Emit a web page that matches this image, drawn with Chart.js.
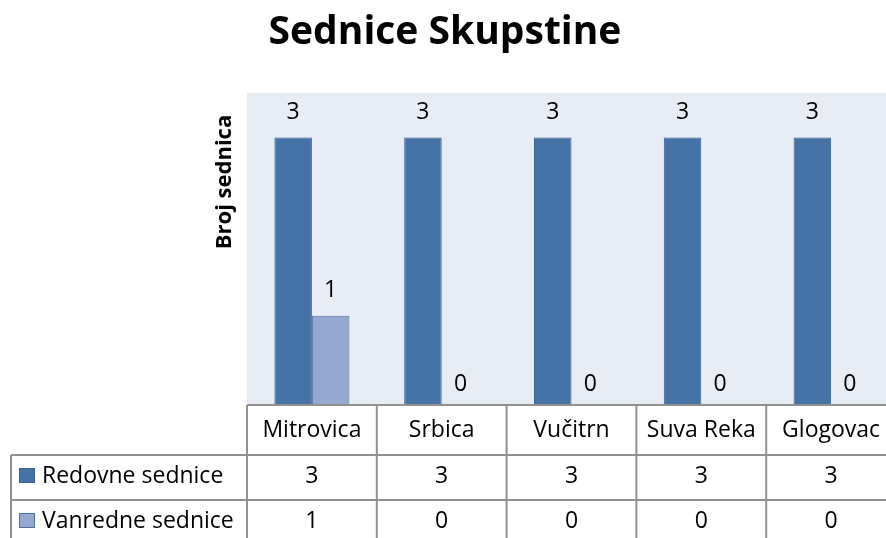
<!DOCTYPE html>
<html lang="sr">
	<head>
		<meta charset="utf-8">
		<title>Sednice Skupstine</title>
		<script src="https://cdn.jsdelivr.net/npm/chart.js@4.4.0/dist/chart.umd.min.js"></script>
		<style>
			html, body { margin: 0; padding: 0; background: #fff; overflow: hidden; width: 886px; height: 538px; }
			#wrap { width: 900px; height: 538px; }
		</style>
	</head>
	<body>
		<div id="wrap"><canvas id="chart" width="900" height="538"></canvas></div>
		<script>
			const categories = ["Mitrovica", "Srbica", "Vučitrn", "Suva Reka", "Glogovac"]
			const seriesNames = ["Redovne sednice", "Vanredne sednice"]
			const redovne = [3, 3, 3, 3, 3]
			const vanredne = [1, 0, 0, 0, 0]

			const font = "'Open Sans', 'Noto Sans', sans-serif"
			const fills = ["#4572a7", "#94a8d0"]
			const borders = ["#3a6291", "#4f6fa3"]

			// excel-like chart: plot background, value labels and the data table underneath
			const excelTable = {
				id: "excelTable",
				beforeDraw(chart) {
					const ctx = chart.ctx
					const a = chart.chartArea
					ctx.save()
					ctx.fillStyle = "#fff"
					ctx.fillRect(0, 0, chart.width, chart.height)
					ctx.fillStyle = "#e8ecf4"
					ctx.fillRect(a.left, a.top, a.right - a.left, a.bottom - a.top)

					ctx.fillStyle = "#000"
					ctx.textAlign = "center"
					ctx.textBaseline = "alphabetic"
					ctx.font = "bold 39px " + font
					ctx.fillText("Sednice Skupstine", 445, 44)

					ctx.font = "bold 22px " + font
					ctx.translate(231, 182)
					ctx.rotate(-Math.PI / 2)
					ctx.fillText("Broj sednica", 0, 0)
					ctx.restore()
				},
				afterDatasetsDraw(chart) {
					const ctx = chart.ctx
					ctx.save()
					ctx.fillStyle = "#000"
					ctx.font = "23px " + font
					ctx.textAlign = "center"
					ctx.textBaseline = "alphabetic"
					chart.data.datasets.forEach((ds, d) => {
						chart.getDatasetMeta(d).data.forEach((bar, i) => {
							ctx.fillText(String(ds.data[i]), bar.x, bar.y - (ds.data[i] > 0 ? 19 : 14))
						})
					})
					ctx.restore()
				},
				afterDraw(chart) {
					const ctx = chart.ctx
					const a = chart.chartArea
					const xs = chart.scales.x
					const n = chart.data.labels.length
					const colW = (a.right - a.left) / n
					const rows = [a.bottom, a.bottom + 50, a.bottom + 95]
					const bottom = chart.height
					const legendLeft = 11

					ctx.save()
					ctx.strokeStyle = "#919191"
					ctx.lineWidth = 2
					const line = (x1, y1, x2, y2) => {
						ctx.beginPath()
						ctx.moveTo(x1, y1)
						ctx.lineTo(x2, y2)
						ctx.stroke()
					}
					line(a.left, rows[0], a.right, rows[0])
					line(legendLeft, rows[1], a.right, rows[1])
					line(legendLeft, rows[2], a.right, rows[2])
					for (let i = 0; i <= n; i++) line(a.left + i * colW, rows[0], a.left + i * colW, bottom)
					line(legendLeft, rows[1], legendLeft, bottom)

					ctx.fillStyle = "#000"
					ctx.font = "23px " + font
					ctx.textAlign = "center"
					ctx.textBaseline = "alphabetic"
					chart.data.labels.forEach((lab, i) => ctx.fillText(lab, xs.getPixelForValue(i), rows[0] + 32))

					chart.data.datasets.forEach((ds, d) => {
						const top = rows[d + 1]
						ctx.fillStyle = ds.backgroundColor
						ctx.fillRect(19, top + 13, 16, 15)
						ctx.strokeStyle = ds.borderColor
						ctx.lineWidth = 1
						ctx.strokeRect(19.5, top + 13.5, 15, 14)
						ctx.fillStyle = "#000"
						ctx.textAlign = "left"
						ctx.fillText(ds.label, 42, top + 28)
						ctx.textAlign = "center"
						ds.data.forEach((v, i) => ctx.fillText(String(v), xs.getPixelForValue(i), top + 28))
					})
					ctx.restore()
				}
			}

			new Chart(document.getElementById("chart"), {
				type: "bar",
				data: {
					labels: categories,
					datasets: [{
						label: seriesNames[0],
						data: redovne,
						backgroundColor: fills[0],
						borderColor: borders[0],
						borderWidth: 1
					}, {
						label: seriesNames[1],
						data: vanredne,
						backgroundColor: fills[1],
						borderColor: borders[1],
						borderWidth: 1
					}]
				},
				options: {
					responsive: false,
					animation: false,
					devicePixelRatio: 1,
					layout: { padding: { left: 247, right: 4, top: 93, bottom: 133 } },
					datasets: { bar: { categoryPercentage: 0.578, barPercentage: 1 } },
					scales: {
						x: { display: false },
						y: { display: false, min: 0, max: 3.5 }
					},
					plugins: {
						legend: { display: false },
						title: { display: false },
						tooltip: { enabled: false }
					}
				},
				plugins: [excelTable]
			})
		</script>
	</body>
</html>
